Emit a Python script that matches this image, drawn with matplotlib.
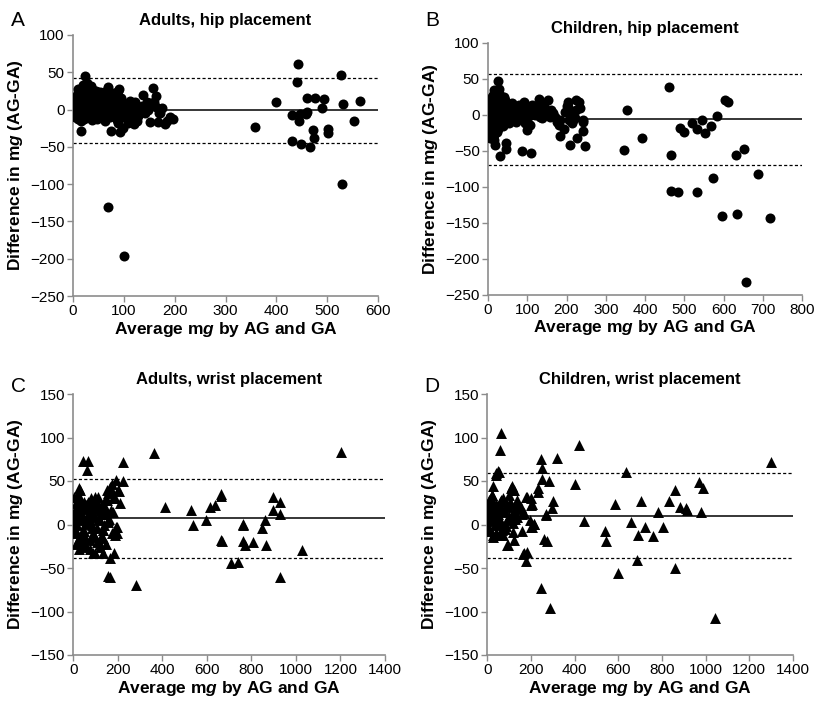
import matplotlib
matplotlib.use("Agg")
import matplotlib.pyplot as plt

plt.rcParams['font.family'] = ['Liberation Sans', 'DejaVu Sans']
plt.rcParams['mathtext.fontset'] = 'custom'
plt.rcParams['mathtext.it'] = 'Liberation Sans:italic:bold'
plt.rcParams['mathtext.rm'] = 'Liberation Sans:bold'
plt.rcParams['mathtext.bf'] = 'Liberation Sans:bold'

# ---- A: adults, hip placement (circles) ----
adult_hip_x = [23, 16, 36, 20, 69, 75, 89, 95, 56, 49, 75, 82, 89, 75, 92, 98, 108, 115,
               138, 131, 141, 157, 164, 154, 148, 151, 167, 180, 197, 171, 164, 3, 0, 10,
               6, 13, 30, 26, 36, 43, 56, 62, 46, 69, 82, 95,
               2, 4, 5, 8, 8, 10, 12, 14, 15, 18, 20, 22, 24, 26, 28, 30, 32, 34, 38,
               40, 42, 45, 48, 50, 52, 55, 58, 62, 65, 68, 72, 78, 85, 88, 92, 100,
               105, 110, 120, 125, 118,
               3, 6, 9, 11, 14, 17, 19, 21, 25, 27, 29, 31, 35, 37, 39, 44, 47, 53,
               60, 64, 70, 74, 80, 84, 86, 94, 97, 102, 112, 116, 122, 128, 135, 145,
               150, 160, 170, 175, 185, 190, 80, 90, 60,
               68, 100,
               358, 399, 443, 441, 430, 445, 447, 459, 461, 461, 476, 493, 490, 472, 474,
               501, 501, 430, 449, 466, 527, 532, 552, 565, 530]
adult_hip_y = [45, -29, 31, 33, 30, 22, 18, 13, 13, 9, -4, -9, -18, -29, -30, -25, -18, -9,
               20, 0, -4, 29, 18, 9, 0, -16, -16, -20, -13, -4, 4, 4, -2, -13,
               13, 22, 9, 0, -4, 4, 0, -7, -11, 4, 9, 4,
               5, -5, 10, 0, 20, -8, 25, 5, -15, 12, 30, -3, 18, 8, 25, -10, 15, 3, 20,
               -5, 12, 25, -12, 5, 18, -8, 10, -15, 20, 2, -10, 12, -2, 25, 0, -5,
               8, -12, -20, -15, 5,
               -10, 15, 28, -5, 18, 2, 22, -12, 14, 35, -6, 20, 10, -14, 26, 16, -2, 24,
               -9, 14, 6, 17, -5, 14, -14, 16, -10, 3, 12, -4, 10, -8, 5, 10,
               5, 10, -5, 2, -15, -10, 22, 28, 24,
               -130, -197,
               -23, 10, 61, 37, -7, -15, -6, -6, -3, 15, 15, 14, 2, -28, -38,
               -26, -32, -42, -46, -50, 47, 8, -15, 12, -100]
adult_hip_lines = [-1, 43, -45]

# ---- B: children, hip placement (circles) ----
child_hip_x = [26, 30, 87, 110, 154, 130, 184, 194, 210, 228, 243, 248, 243, 224, 232, 205,
               207, 224, 15, 19, 45, 45, 15, 28, 40, 7, 3, 11, 23, 40, 57, 53, 74, 91,
               83, 99, 95, 116, 124, 133, 146, 158, 171, 184, 205, 217, 242, 66,
               1, 2, 3, 4, 5, 6, 7, 8, 9, 10, 11, 12, 13, 14, 15, 16, 17, 18, 19, 20,
               21, 22, 24, 25, 26, 28, 30, 32, 34, 36, 38, 42, 48, 50, 55, 60, 65, 70,
               78, 85, 92, 100, 105, 112, 120, 128, 138, 142, 150, 165, 175, 195, 210,
               222, 235,
               2, 4, 6, 9, 12, 16, 20, 24, 28, 33, 37, 44, 52, 62, 72, 80, 96, 108,
               118, 136, 160, 180, 200, 215,
               347, 354, 393, 462, 465, 490, 499, 520, 532, 544, 554, 568, 583, 603,
               611, 632, 652, 466, 484, 533, 573, 596, 635, 658, 689, 719]
child_hip_y = [47, -58, -51, -53, 20, 22, -30, -20, -42, -32, -23, -43, -8, 20, 18, 18,
               -7, 7, -35, -42, -39, -47, 34, 30, 25, 16, 2, -12, -7, 2, 2, -12, 11, 18,
               -3, -21, -12, 2, 11, -3, 7, -3, -3, -7, 11, -7, -10, 2,
               -5, 8, -15, 20, -25, 0, 12, -30, 25, -10, 5, -20, 28, -2, 15, -28, 10,
               -8, 22, 0, -15, 30, -5, 10, -20, 18, -2, 8, -12, 12, 0, 5, -8, 10, 3,
               12, -5, 8, 0, 6, -8, 10, -2, 14, 0, 8, -5, 12, 0, 2, -10, 4, 0, -5, 10,
               -18, 14, -32, 4, 22, -14, 10, -24, 36, 18, -16, 20, -4, 16, -10, 14, 6,
               -14, 10, 16, 6, -14, 12, -12,
               -49, 7, -32, 39, -56, -19, -24, -11, -20, -7, -26, -16, -2, 21, 18,
               -56, -48, -106, -108, -108, -88, -140, -138, -233, -82, -143]
child_hip_lines = [-6.5, 56.5, -70]

# ---- C: adults, wrist placement (triangles) ----
adult_wrist_x = [362, 1204, 45, 67, 63, 222, 222, 192, 172, 150, 26,
                 411, 530, 536, 594, 614, 636, 663, 662, 760, 763, 848, 863, 897, 897,
                 930, 927, 663, 670, 764, 772, 808, 865, 710, 738, 927, 1026, 281,
                 157, 167, 90, 135, 183, 165, 172, 195, 195, 157, 132, 132,
                 29, 21, 6, 0, 13, 36, 58, 73, 96, 66, 81, 96, 111, 126, 141, 156, 163,
                 171, 156, 133, 126, 193, 186, 118, 51, 81, 111, 36, 44, 21, 96,
                 3, 8, 12, 16, 20, 25, 30, 34, 40, 48, 55, 60, 70, 78, 85, 92, 100, 105,
                 115, 120, 130, 138, 145, 150, 160, 178, 205, 210,
                 2, 5, 10, 14, 18, 24, 28, 33, 38, 42, 50, 54, 62, 68, 75, 82, 88, 94,
                 102, 108, 122, 128, 142, 148, 168, 180, 188, 200, 18, 30, 46, 64, 86,
                 110, 140]
adult_wrist_y = [82, 83, 73, 73, 63, 72, 50, 51, 47, 40, 42,
                 20, 17, 0, 5, 20, 22, 35, 33, 1, -1, -4, 5, 32, 17,
                 26, 12, -18, -19, -19, -24, -20, -23, -44, -43, -60, -29, -69,
                 -59, -60, -33, -33, -33, -39, -10, -10, -3, 3, -6, -16,
                 40, 28, 17, 1, -10, -18, -25, -18, -33, 20, 28, 32, 24, 17, 28, 36, 43,
                 17, 5, -6, -14, -3, -12, -22, 1, 9, 5, 13, -6, -18, -14,
                 10, -5, 25, 0, 12, -15, 30, 5, 18, -8, 22, 8, 14, 30, 0, 10, 20, -4,
                 8, 15, 22, 0, 12, 28, 6, 30, 38, 25,
                 -8, 32, 6, -22, 34, -28, 24, -20, 10, -26, 26, -16, 4, 26, -28, 18,
                 -10, 20, 28, -20, -26, 12, 20, -22, 40, 14, 30, 40, 20, 14, -12, 8,
                 -4, 32, 16]
adult_wrist_lines = [7, 52, -38]

# ---- D: children, wrist placement (triangles) ----
child_wrist_x = [61, 58, 40, 55, 25, 23, 112, 119, 246, 252, 249, 283, 321, 234, 234,
                 302, 298, 269, 203, 180, 420, 403, 441, 585, 634, 657, 705, 722, 783,
                 806, 832, 858, 882, 910, 916, 968, 990, 979, 1300, 539, 689, 758,
                 195, 215, 158, 119, 73, 544, 597, 687, 861, 1043, 244, 287, 165, 183,
                 176, 260, 272, 203, 96, 27, 58, 5, 168, 92, 122, 54, 214, 199, 267,
                 0, 15, 23, 38, 49, 107, 122, 61, 77, 107, 137, 153, 176, 199, 199,
                 168, 92, 46, 137, 31, 69, 8,
                 3, 10, 18, 28, 35, 44, 52, 66, 82, 88, 100, 128, 145, 160,
                 2, 6, 12, 16, 20, 30, 36, 42, 48, 56, 64, 72, 80, 86, 94, 104, 114,
                 124, 134, 10, 26, 38, 62, 78, 98, 116]
child_wrist_y = [105, 86, 59, 60, 44, 34, 44, 40, 75, 65, 52, 50, 77, 42, 37,
                 27, 19, 12, 23, 32, 91, 47, 4, 24, 60, 3, 27, -3, 14,
                 -3, 27, 40, 20, 19, 17, 49, 42, 14, 72, -8, -12, -13,
                 5, 1, -7, -9, -12, -19, -56, -41, -50, -108, -73, -96, -34, -32,
                 -42, -17, -19, -3, -24, -14, -10, -3, -33, -24, -18, -12, 1, -3, 11,
                 -3, 9, 34, 57, 61, 42, 40, 28, 17, 24, 28, 20, 32, 30, 22,
                 13, 5, 1, 9, 20, -6, 17,
                 5, -8, 25, 12, 0, 18, 8, 15, -5, 22, 10, 6, 18, 12,
                 8, 22, -6, 14, 28, 4, 20, -10, 12, 26, 2, 30, 14, -2, 20, 26, 6,
                 16, 22, 28, -12, 24, 16, -4, 34, 2]
child_wrist_lines = [10, 59.5, -38]

panels = [
    ('A', 'Adults, hip placement', adult_hip_x, adult_hip_y, adult_hip_lines, 'o',
     (0, 600), list(range(0, 601, 100)), (-250, 100), list(range(-250, 101, 50)),
     [73 / 816, 1 - 296 / 701, 305 / 816, 261 / 701]),
    ('B', 'Children, hip placement', child_hip_x, child_hip_y, child_hip_lines, 'o',
     (0, 800), list(range(0, 801, 100)), (-250, 100), list(range(-250, 101, 50)),
     [488 / 816, 1 - 294.7 / 701, 314 / 816, 252 / 701]),
    ('C', 'Adults, wrist placement', adult_wrist_x, adult_wrist_y, adult_wrist_lines, '^',
     (0, 1400), list(range(0, 1401, 200)), (-150, 150), list(range(-150, 151, 50)),
     [73.3 / 816, 1 - 655 / 701, 311.7 / 816, 261 / 701]),
    ('D', 'Children, wrist placement', child_wrist_x, child_wrist_y, child_wrist_lines, '^',
     (0, 1400), list(range(0, 1401, 200)), (-150, 150), list(range(-150, 151, 50)),
     [487.3 / 816, 1 - 655 / 701, 305.7 / 816, 261 / 701]),
]

fig = plt.figure(figsize=(8.16, 7.01), dpi=100)
grey = '#8c8c8c'

for letter, title, xs, ys, lines, marker, xlim, xticks, ylim, yticks, rect in panels:
    ax = fig.add_axes(rect)
    size = 52 if marker == 'o' else 62
    ax.scatter(xs, ys, marker=marker, s=size, color='black', linewidths=0, zorder=3)

    ax.axhline(lines[0], color='black', lw=1.1, zorder=2)
    ax.axhline(lines[1], color='black', lw=0.9, ls=(0, (2.5, 1.8)), zorder=2)
    ax.axhline(lines[2], color='black', lw=0.9, ls=(0, (2.5, 1.8)), zorder=2)

    ax.set_xlim(*xlim)
    ax.set_ylim(*ylim)
    ax.set_xticks(xticks)
    ax.set_yticks(yticks)
    ax.tick_params(labelsize=11, color=grey, length=4, width=1, direction='out', pad=2)
    for side in ['top', 'right']:
        ax.spines[side].set_visible(False)
    for side in ['left', 'bottom']:
        ax.spines[side].set_color(grey)
        ax.spines[side].set_linewidth(1.2)

    ax.set_title(title, fontsize=12, fontweight='bold', pad=7)
    ax.set_xlabel(r'Average m$\mathit{g}$ by AG and GA', fontsize=12.5,
                  fontweight='bold', labelpad=1)
    ax.set_ylabel(r'Difference in m$\mathit{g}$ (AG-GA)', fontsize=12.5,
                  fontweight='bold', labelpad=4)

    left_px = 18 if letter in 'AC' else 432
    top_px = 20 if letter in 'AB' else 387
    fig.text(left_px / 816, 1 - top_px / 701, letter, fontsize=15,
             ha='center', va='center')

fig.savefig('out.png', dpi=100)
